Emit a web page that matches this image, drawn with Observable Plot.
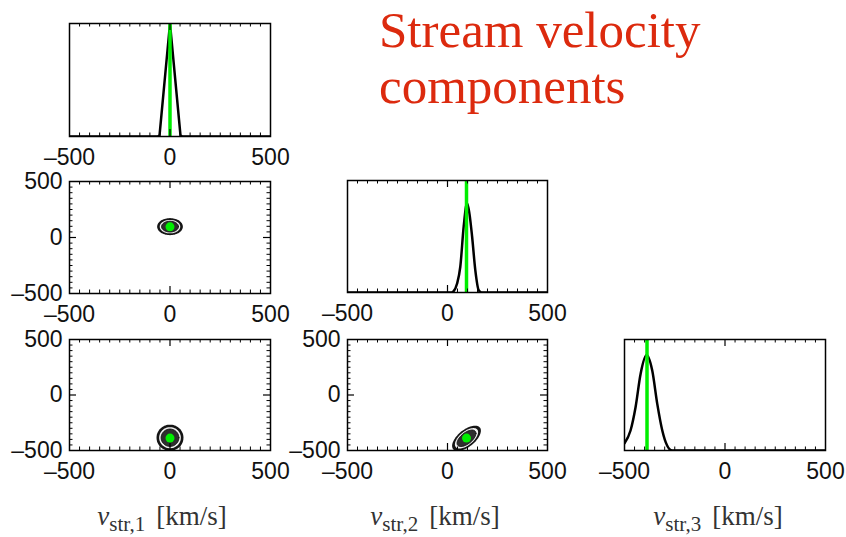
<!DOCTYPE html>
<html><head><meta charset="utf-8">
<script src="https://cdn.jsdelivr.net/npm/d3@7"></script>
<script src="https://cdn.jsdelivr.net/npm/@observablehq/plot@0.6"></script>
<style>
html,body{margin:0;padding:0;background:#fff;}
#fig{position:relative;width:846px;height:537px;overflow:hidden;background:#fff;}
.title{position:absolute;left:379px;top:2px;font-family:"Liberation Serif",serif;font-size:51px;line-height:56px;color:#dc2a0e;white-space:nowrap;}
.xlab{position:absolute;top:503px;font-family:"Liberation Serif",serif;font-size:27px;line-height:27px;color:#333;white-space:nowrap;transform:translateX(-50%);}
.xlab i{font-style:italic;font-family:"Liberation Serif",serif;}
.xlab .sub{font-family:"Liberation Serif",serif;font-size:21px;position:relative;top:6px;margin-right:11px;}
.xlab .unit{font-family:"Liberation Serif",serif;}
</style></head>
<body><div id="fig">
<div class="title">Stream velocity<br>components</div>
</div>
<script>
// ---------- data ----------
const axisNames = ["str,1", "str,2", "str,3"];
const majorTicks = [-500, 0, 500];
const minorTicks = [-450, -400, -350, -300, -250, -200, -150, -100, -50, 0, 50, 100, 150, 200, 250, 300, 350, 400, 450];
const truth = [0, 95, -388]; // true stream velocity (green)

// 1D marginals (normalised heights)
const hist1X = [-500, -60, -52, 0, 52, 60, 500];
const hist1Y = [0, 0, 0.012, 1.0, 0.012, 0, 0];
const hist2X = [-500, 20, 30, 48, 64, 81, 98, 110, 123, 139, 156, 170, 500];
const hist2Y = [0, 0, 0.01, 0.08, 0.23, 0.59, 0.80, 0.70, 0.50, 0.20, 0.02, 0, 0];
const hist3X = [-500, -470, -445, -420, -390, -362, -337, -312, -288, -263, -240, 500];
const hist3Y = [0.066, 0.18, 0.39, 0.69, 0.86, 0.72, 0.42, 0.18, 0.045, 0, 0, 0];

// 2D marginals: contour centre, semi-axes per level (outer, middle, inner), correlation
const c12Center = [0, 97];
const c12Axes = [[64, 76], [51, 60], [42, 48]];
const c12Corr = 0;
const c13Center = [0, -385];
const c13Axes = [[67, 118], [54, 95], [44, 78]];
const c13Corr = 0;
const c23Center = [95, -390];
const c23Axes = [[72, 114], [58, 92], [47, 74]];
const c23Corr = 0.6;

// ---------- drawing ----------
const levelFill = ["#151515", "#f0f0f0", "#2e2e2e"];
const fig = document.getElementById("fig");
const fmt = d => d < 0 ? "\u2013" + (-d) : String(d);
const T = d3.range(0, 73).map(i => 2 * Math.PI * i / 72);
function ellipse(c, ab, rho) {
  const [a, b] = ab;
  return T.map(t => ({x: c[0] + a * Math.cos(t), y: c[1] + b * (rho * Math.cos(t) + Math.sqrt(1 - rho * rho) * Math.sin(t))}));
}
const pts = (X, Y) => X.map((x, i) => ({x, y: Y[i]}));

function panel({fx, fy, w, h, hist, marks}) {
  const mL = 75, mR = 32, mT = 12, mB = 44;
  const tl = 3.5, tL = 7;
  const minor = minorTicks.filter(d => d !== 0);
  const ticks = [
    Plot.tickX(minor, {x: d => d, insetTop: h - tl, stroke: "black", strokeWidth: 1}),
    Plot.tickX(minor, {x: d => d, insetBottom: h - tl, stroke: "black", strokeWidth: 1}),
    Plot.tickX([0], {x: d => d, insetTop: h - tL, stroke: "black", strokeWidth: 1.2}),
    Plot.tickX([0], {x: d => d, insetBottom: h - tL, stroke: "black", strokeWidth: 1.2})
  ];
  if (!hist) ticks.push(
    Plot.tickY(minor, {y: d => d, insetRight: w - tl, stroke: "black", strokeWidth: 1}),
    Plot.tickY(minor, {y: d => d, insetLeft: w - tl, stroke: "black", strokeWidth: 1}),
    Plot.tickY([0], {y: d => d, insetRight: w - tL, stroke: "black", strokeWidth: 1.2}),
    Plot.tickY([0], {y: d => d, insetLeft: w - tL, stroke: "black", strokeWidth: 1.2})
  );
  const axes = [Plot.axisX({ticks: majorTicks, tickSize: 0, tickPadding: 12, fontSize: 23, tickFormat: fmt, label: null, fill: "#111"})];
  if (!hist) axes.push(Plot.axisY({ticks: majorTicks, tickSize: 0, tickPadding: 7, fontSize: 23, tickFormat: fmt, label: null, fill: "#111"}));
  const svg = Plot.plot({
    width: mL + w + mR, height: mT + h + mB,
    marginLeft: mL, marginRight: mR, marginTop: mT, marginBottom: mB,
    x: {domain: [-500, 500]},
    y: hist ? {domain: [0, 1], axis: null} : {domain: [-500, 500]},
    style: {background: "none", fontFamily: "Liberation Sans, Arial, sans-serif", color: "black", overflow: "visible"},
    marks: [...marks, ...ticks, Plot.frame({stroke: "black", strokeWidth: 1.5}), ...axes]
  });
  svg.style.position = "absolute";
  svg.style.left = (fx - mL) + "px";
  svg.style.top = (fy - mT) + "px";
  svg.style.maxWidth = "none";
  fig.appendChild(svg);
}

function histMarks(X, Y, t, curve) {
  return [
    Plot.line(pts(X, Y), {x: "x", y: "y", stroke: "black", strokeWidth: 2.5, curve, clip: true}),
    Plot.ruleX([t], {x: d => d, stroke: "#00ee00", strokeWidth: 3.5})
  ];
}
function contourMarks(center, axes, rho, tx, ty) {
  return [
    ...axes.map((ab, i) => Plot.line(ellipse(center, ab, rho), {x: "x", y: "y", fill: levelFill[i], stroke: i === 2 ? "#111" : "none", strokeWidth: 1, curve: "linear-closed", clip: true})),
    Plot.dot([[tx, ty]], {x: d => d[0], y: d => d[1], r: 4.5, fill: "#00ee00", stroke: "none"})
  ];
}

const W = 201, H1 = 113, H2 = 112, H3 = 111;
panel({fx: 69, fy: 23, w: W, h: H1, hist: true, marks: histMarks(hist1X, hist1Y, truth[0], "linear")});
panel({fx: 69, fy: 181, w: W, h: H2, hist: false, marks: contourMarks(c12Center, c12Axes, c12Corr, truth[0], truth[1])});
panel({fx: 347, fy: 180, w: 200, h: H2, hist: true, marks: histMarks(hist2X, hist2Y, truth[1], "monotone-x")});
panel({fx: 69, fy: 339, w: W, h: H3, hist: false, marks: contourMarks(c13Center, c13Axes, c13Corr, truth[0], truth[2])});
panel({fx: 347, fy: 339, w: 200, h: H3, hist: false, marks: contourMarks(c23Center, c23Axes, c23Corr, truth[1], truth[2])});
panel({fx: 624, fy: 339, w: W, h: H3, hist: true, marks: histMarks(hist3X, hist3Y, truth[2], "monotone-x")});

// axis labels below
const labelCenters = [162, 435, 718];
axisNames.forEach((n, i) => {
  const d = document.createElement("div");
  d.className = "xlab";
  d.style.left = labelCenters[i] + "px";
  d.innerHTML = `<i>v</i><span class="sub">${n}</span><span class="unit">[km/s]</span>`;
  fig.appendChild(d);
});
</script>
</body></html>
